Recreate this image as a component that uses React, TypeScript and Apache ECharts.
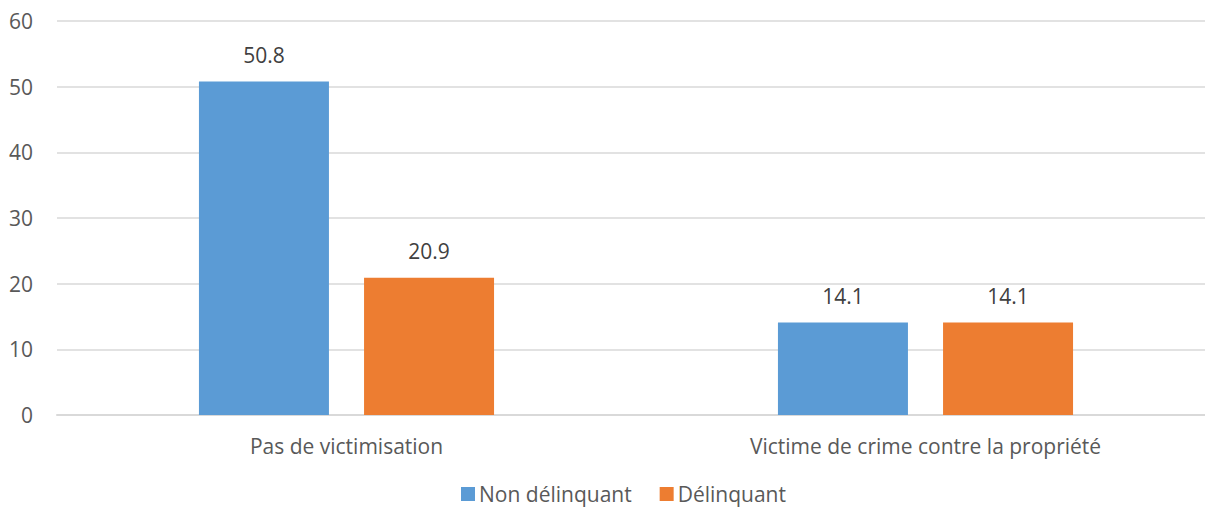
import React, { useEffect, useRef } from "react";
import * as echarts from "echarts";

const categories = ["Pas de victimisation", "Victime de crime contre la propriété"];
const nonDelinquant = [50.8, 14.1];
const delinquant = [20.9, 14.1];
const seriesNames = ["Non délinquant", "Délinquant"];
const colors = ["#5B9BD5", "#ED7D31"];
const FONT = "Open Sans";
const FS = 21;

export default function App() {
  const ref = useRef<HTMLDivElement>(null);
  useEffect(() => {
    const chart = echarts.init(ref.current!, undefined, { renderer: "svg" });
    const label = {
      show: true,
      position: "top",
      distance: 16,
      color: "#404040",
      fontSize: FS,
      fontFamily: FONT,
      formatter: (p: any) => p.value.toFixed(1),
    };
    chart.setOption({
      animation: false,
      textStyle: { fontFamily: FONT },
      grid: { left: 57, right: 0, top: 21, bottom: 93, containLabel: false },
      legend: {
        top: 483,
        left: 461,
        itemWidth: 14,
        itemHeight: 14,
        itemGap: 28,
        padding: 0,
        icon: "rect",
        textStyle: { fontSize: FS, lineHeight: 22, color: "#595959", fontFamily: FONT, padding: [0, 0, 0, -1] },
        data: seriesNames,
      },
      xAxis: {
        type: "category",
        data: categories,
        axisLine: { lineStyle: { color: "#D9D9D9", width: 2 } },
        axisTick: { show: false },
        axisLabel: { color: "#595959", fontSize: FS, fontFamily: FONT, margin: 20 },
      },
      yAxis: {
        type: "value",
        min: 0,
        max: 60,
        interval: 10,
        axisLine: { show: false },
        axisTick: { show: false },
        axisLabel: { color: "#595959", fontSize: FS, fontFamily: FONT, margin: 24 },
        splitLine: { lineStyle: { color: "#D9D9D9", width: 1.5 } },
      },
      series: [
        {
          name: seriesNames[0],
          type: "bar",
          data: nonDelinquant,
          barWidth: 130,
          barGap: "27%",
          itemStyle: { color: colors[0] },
          label,
        },
        {
          name: seriesNames[1],
          type: "bar",
          data: delinquant,
          barWidth: 130,
          barGap: "27%",
          itemStyle: { color: colors[1] },
          label,
        },
      ],
    });
    return () => chart.dispose();
  }, []);
  return (
    <div style={{ position: "fixed", left: 0, top: 0, width: 1205, height: 508, overflow: "hidden", background: "#fff" }}>
      <div ref={ref} style={{ width: 1215, height: 508 }} />
    </div>
  );
}
